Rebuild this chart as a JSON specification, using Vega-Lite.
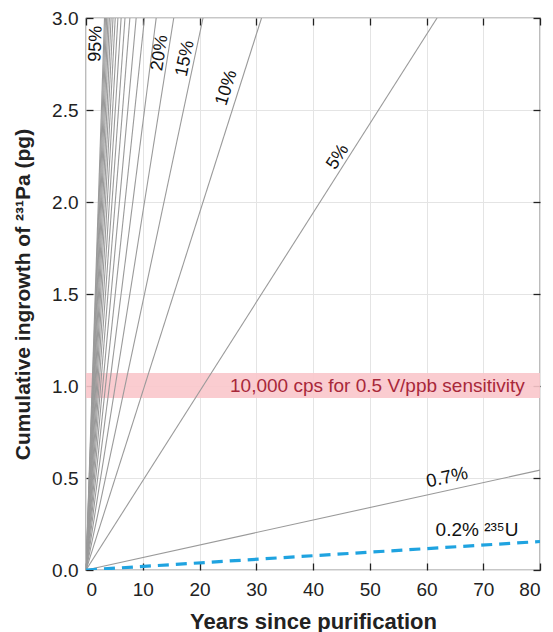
{
  "$schema": "https://vega.github.io/schema/vega-lite/v6.json",
  "autosize": {"type": "none"},
  "padding": {"left": 86, "top": 18, "right": 13, "bottom": 62},
  "width": 454,
  "height": 552,
  "background": "white",
  "resolve": {"axis": {"x": "independent", "y": "independent"}},
  "config": {
    "font": "Liberation Sans",
    "view": {"stroke": "#222", "strokeWidth": 1.2},
    "axis": {
      "gridColor": "#e4e4e4",
      "gridWidth": 1,
      "domainColor": "#222",
      "domainWidth": 1.2,
      "tickWidth": 1.3,
      "labelFont": "Liberation Sans",
      "labelFontSize": 19,
      "labelColor": "#222",
      "titleFont": "Liberation Sans",
      "titleFontSize": 20,
      "titleFontWeight": "bold",
      "titleColor": "#222"
    }
  },
  "datasets": {
    "band": [{"x0": 0, "x1": 80, "y0": 0.935, "y1": 1.07, "text": "10,000 cps for 0.5 V/ppb sensitivity", "tx": 77.3, "ty": 1.0}],
    "lines": [
      {"p": "0.2%", "x": 0, "y": 0}, {"p": "0.2%", "x": 80, "y": 0.155},
      {"p": "0.7%", "x": 0, "y": 0}, {"p": "0.7%", "x": 80, "y": 0.543},
      {"p": "5%", "x": 0, "y": 0}, {"p": "5%", "x": 61.86, "y": 3},
      {"p": "10%", "x": 0, "y": 0}, {"p": "10%", "x": 30.93, "y": 3},
      {"p": "15%", "x": 0, "y": 0}, {"p": "15%", "x": 20.62, "y": 3},
      {"p": "20%", "x": 0, "y": 0}, {"p": "20%", "x": 15.46, "y": 3},
      {"p": "25%", "x": 0, "y": 0}, {"p": "25%", "x": 12.37, "y": 3},
      {"p": "30%", "x": 0, "y": 0}, {"p": "30%", "x": 10.31, "y": 3},
      {"p": "35%", "x": 0, "y": 0}, {"p": "35%", "x": 8.84, "y": 3},
      {"p": "40%", "x": 0, "y": 0}, {"p": "40%", "x": 7.73, "y": 3},
      {"p": "45%", "x": 0, "y": 0}, {"p": "45%", "x": 6.87, "y": 3},
      {"p": "50%", "x": 0, "y": 0}, {"p": "50%", "x": 6.19, "y": 3},
      {"p": "55%", "x": 0, "y": 0}, {"p": "55%", "x": 5.62, "y": 3},
      {"p": "60%", "x": 0, "y": 0}, {"p": "60%", "x": 5.15, "y": 3},
      {"p": "65%", "x": 0, "y": 0}, {"p": "65%", "x": 4.76, "y": 3},
      {"p": "70%", "x": 0, "y": 0}, {"p": "70%", "x": 4.42, "y": 3},
      {"p": "75%", "x": 0, "y": 0}, {"p": "75%", "x": 4.12, "y": 3},
      {"p": "80%", "x": 0, "y": 0}, {"p": "80%", "x": 3.87, "y": 3},
      {"p": "85%", "x": 0, "y": 0}, {"p": "85%", "x": 3.64, "y": 3},
      {"p": "90%", "x": 0, "y": 0}, {"p": "90%", "x": 3.44, "y": 3},
      {"p": "95%", "x": 0, "y": 0}, {"p": "95%", "x": 3.26, "y": 3}
    ],
    "labels": [
      {"label": "95%", "x": 1.75, "y": 2.86},
      {"label": "20%", "x": 13.0, "y": 2.81},
      {"label": "15%", "x": 17.5, "y": 2.78},
      {"label": "10%", "x": 24.8, "y": 2.62},
      {"label": "5%", "x": 44.4, "y": 2.245},
      {"label": "0.7%", "x": 63.6, "y": 0.505},
      {"label": "0.2% ²³⁵U", "x": 68.9, "y": 0.217}
    ]
  },
  "layer": [
    {
      "data": {"name": "band"},
      "mark": {"type": "rect", "color": "#f9c6cb", "opacity": 0.9},
      "encoding": {
        "x": {"field": "x0", "type": "quantitative", "scale": {"domain": [0, 80], "nice": false},
              "axis": {"orient": "bottom", "offset": -7, "tickSize": 7, "ticks": true, "tickColor": "#222", "domain": false, "grid": true, "values": [0,10,20,30,40,50,60,70,80], "title": "Years since purification", "labelPadding": 10, "titlePadding": 12, "titleFontSize": 22}},
        "x2": {"field": "x1"},
        "y": {"field": "y0", "type": "quantitative", "scale": {"domain": [0, 3], "nice": false},
              "axis": {"orient": "left", "offset": -7, "tickSize": 7, "ticks": true, "tickColor": "#222", "domain": false, "grid": true, "values": [0,0.5,1,1.5,2,2.5,3], "format": ".1f", "title": "Cumulative ingrowth of ²³¹Pa (pg)", "labelPadding": 8, "titlePadding": 18, "titleFontSize": 21}},
        "y2": {"field": "y1"}
      }
    },
    {
      "data": {"name": "lines"},
      "mark": {"type": "point", "opacity": 0},
      "encoding": {
        "x": {"field": "x", "type": "quantitative", "axis": {"orient": "top", "offset": -7, "tickSize": 7, "ticks": true, "tickColor": "#222", "values": [0,10,20,30,40,50,60,70,80], "labels": false, "title": null, "grid": false, "domain": false}},
        "y": {"field": "y", "type": "quantitative", "axis": {"orient": "right", "offset": -7, "tickSize": 7, "ticks": true, "tickColor": "#222", "values": [0,0.5,1,1.5,2,2.5,3], "labels": false, "title": null, "grid": false, "domain": false}}
      }
    },
    {
      "data": {"name": "lines"},
      "transform": [{"filter": "datum.p !== '0.2%'"}],
      "mark": {"type": "line", "color": "#9a9a9a", "strokeWidth": 1.1, "clip": true},
      "encoding": {
        "x": {"field": "x", "type": "quantitative", "axis": null},
        "y": {"field": "y", "type": "quantitative", "axis": null},
        "detail": {"field": "p"}
      }
    },
    {
      "data": {"name": "lines"},
      "transform": [{"filter": "datum.p === '0.2%'"}],
      "mark": {"type": "line", "color": "#1fa3e0", "strokeWidth": 3.2, "strokeDash": [11, 7], "clip": true},
      "encoding": {
        "x": {"field": "x", "type": "quantitative", "axis": null},
        "y": {"field": "y", "type": "quantitative", "axis": null}
      }
    },
    {
      "data": {"name": "band"},
      "mark": {"type": "text", "color": "#a8283a", "fontSize": 19, "align": "right", "baseline": "middle"},
      "encoding": {
        "x": {"field": "tx", "type": "quantitative", "axis": null},
        "y": {"field": "ty", "type": "quantitative", "axis": null},
        "text": {"field": "text"}
      }
    },
    {
      "data": {"name": "labels"},
      "transform": [{"filter": "datum.label === '95%'"}],
      "mark": {"type": "text", "fontSize": 18, "color": "#111", "angle": 272, "align": "center", "baseline": "middle"},
      "encoding": {"x": {"field": "x", "type": "quantitative", "axis": null}, "y": {"field": "y", "type": "quantitative", "axis": null}, "text": {"field": "label"}}
    },
    {
      "data": {"name": "labels"},
      "transform": [{"filter": "datum.label === '20%'"}],
      "mark": {"type": "text", "fontSize": 18, "color": "#111", "angle": 279, "align": "center", "baseline": "middle"},
      "encoding": {"x": {"field": "x", "type": "quantitative", "axis": null}, "y": {"field": "y", "type": "quantitative", "axis": null}, "text": {"field": "label"}}
    },
    {
      "data": {"name": "labels"},
      "transform": [{"filter": "datum.label === '15%'"}],
      "mark": {"type": "text", "fontSize": 18, "color": "#111", "angle": 282, "align": "center", "baseline": "middle"},
      "encoding": {"x": {"field": "x", "type": "quantitative", "axis": null}, "y": {"field": "y", "type": "quantitative", "axis": null}, "text": {"field": "label"}}
    },
    {
      "data": {"name": "labels"},
      "transform": [{"filter": "datum.label === '10%'"}],
      "mark": {"type": "text", "fontSize": 18, "color": "#111", "angle": 287.6, "align": "center", "baseline": "middle"},
      "encoding": {"x": {"field": "x", "type": "quantitative", "axis": null}, "y": {"field": "y", "type": "quantitative", "axis": null}, "text": {"field": "label"}}
    },
    {
      "data": {"name": "labels"},
      "transform": [{"filter": "datum.label === '5%'"}],
      "mark": {"type": "text", "fontSize": 18, "color": "#111", "angle": 302.5, "align": "center", "baseline": "middle"},
      "encoding": {"x": {"field": "x", "type": "quantitative", "axis": null}, "y": {"field": "y", "type": "quantitative", "axis": null}, "text": {"field": "label"}}
    },
    {
      "data": {"name": "labels"},
      "transform": [{"filter": "datum.label === '0.7%'"}],
      "mark": {"type": "text", "fontSize": 18.5, "color": "#111", "angle": 347.6, "align": "center", "baseline": "middle"},
      "encoding": {"x": {"field": "x", "type": "quantitative", "axis": null}, "y": {"field": "y", "type": "quantitative", "axis": null}, "text": {"field": "label"}}
    },
    {
      "data": {"name": "labels"},
      "transform": [{"filter": "datum.label === '0.2% ²³⁵U'"}],
      "mark": {"type": "text", "fontSize": 19, "color": "#111", "align": "center", "baseline": "middle"},
      "encoding": {"x": {"field": "x", "type": "quantitative", "axis": null}, "y": {"field": "y", "type": "quantitative", "axis": null}, "text": {"field": "label"}}
    }
  ]
}
